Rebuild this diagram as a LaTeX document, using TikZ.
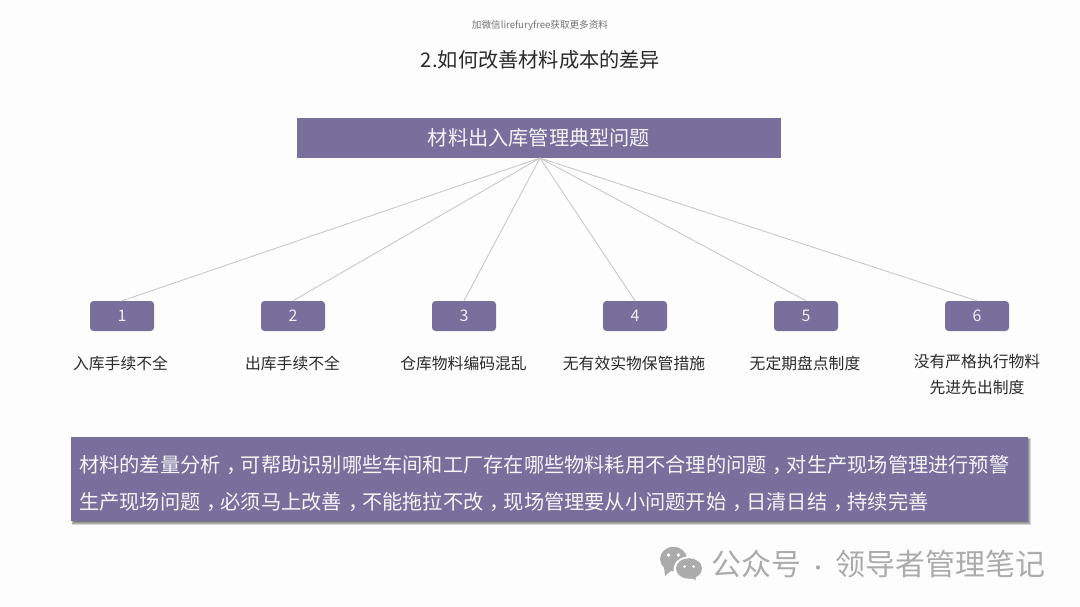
\documentclass[tikz,border=0pt]{standalone}
\usepackage{fontspec}
\setmainfont{Noto Sans CJK SC}
\definecolor{boxpurple}{HTML}{786F9C}
\definecolor{linegray}{HTML}{C9C9C9}
\definecolor{markgray}{HTML}{ABABAB}
\definecolor{inktext}{HTML}{2A2A2A}
\definecolor{pagebg}{HTML}{FDFDFD}
\newcommand\fs[1]{\fontsize{#1}{#1}\selectfont}
\newcommand\cmma{\hspace*{.3em}，\hspace*{-.3em}}
\tikzset{
  numbox/.style={fill=boxpurple,rounded corners=3.5pt,minimum width=64pt,minimum height=30pt,inner sep=0pt,text=white!88!boxpurple,font=\fs{16}},
  itemtext/.style={text=inktext,font=\fs{15.8},inner sep=0pt,align=center},
  spoke/.style={draw=linegray,line width=.9pt},
  softshadow/.style={fill=black,opacity=.16},
}
\begin{document}
\begin{tikzpicture}[x=1pt,y=-1pt]
\useasboundingbox (0,0) rectangle (1080,607);
\fill[pagebg] (0,0) rectangle (1080,607);
\node[text=black!55,font=\fs{9.6},inner sep=0pt] (hdr) at (540,25.5) {加微信lirefuryfree获取更多资料};
\node[text=inktext,font=\fs{20.2},inner sep=0pt] (title) at (540.5,59.5) {2.如何改善材料成本的差异};
\node[fill=boxpurple,minimum width=484pt,minimum height=40pt,inner sep=0pt,text=white!92!boxpurple,font=\fs{20.2}] (top) at (539,138) {材料出入库管理典型问题};
\node[numbox] (b1) at (122,316) {1};
\node[numbox] (b2) at (293,316) {2};
\node[numbox] (b3) at (464,316) {3};
\node[numbox] (b4) at (635,316) {4};
\node[numbox] (b5) at (806,316) {5};
\node[numbox] (b6) at (977,316) {6};
\coordinate (hub) at (540,158);
\foreach \n in {1,...,6} \draw[spoke] (hub) -- (b\n.north);
\node[itemtext] (t1) at (120.5,363) {入库手续不全};
\node[itemtext] (t2) at (292.5,363) {出库手续不全};
\node[itemtext] (t3) at (463.5,363) {仓库物料编码混乱};
\node[itemtext] (t4) at (634,363) {无有效实物保管措施};
\node[itemtext] (t5) at (805,363) {无定期盘点制度};
\node[itemtext] (t6a) at (977,362) {没有严格执行物料};
\node[itemtext] (t6b) at (977,387) {先进先出制度};
\foreach \d in {0,.7,1.4,2.1}
  \fill[softshadow] (71.5+\d,438+\d) rectangle (1030.5-\d,524.5-\d);
\node[fill=boxpurple,minimum width=957pt,minimum height=84pt,inner sep=0pt] (note) at (549.5,479) {};
\node[anchor=west,inner sep=0pt,text=white!93!boxpurple,font=\fs{20.22}] (n1) at (79,465) {材料的差量分析\cmma 可帮助识别哪些车间和工厂存在哪些物料耗用不合理的问题\cmma 对生产现场管理进行预警};
\node[anchor=west,inner sep=0pt,text=white!93!boxpurple,font=\fs{20.22}] (n2) at (79,501.5) {生产现场问题\cmma 必须马上改善\cmma 不能拖拉不改\cmma 现场管理要从小问题开始\cmma 日清日结\cmma 持续完善};
% WeChat mark
\fill[markgray] (673.5,559) ellipse (13.5 and 12.2);
\fill[markgray] (664,567) -- (665,576) -- (672,570) -- cycle;
\fill[pagebg] (689,569) ellipse (15.5 and 12.5);
\fill[markgray] (689,568.5) ellipse (13 and 10.3);
\fill[markgray] (695,575) -- (696,580) -- (688,577) -- cycle;
\fill[pagebg] (668.5,555) circle (1.8) (678.5,555) circle (1.8) (684.5,566.5) circle (1.5) (693.5,566.5) circle (1.5);
\node[anchor=west,inner sep=0pt,text=markgray,font=\fs{30}] (mark) at (711,564) {公众号\makebox[34pt]{\fs{20}·}领导者管理笔记};
\end{tikzpicture}
\end{document}
